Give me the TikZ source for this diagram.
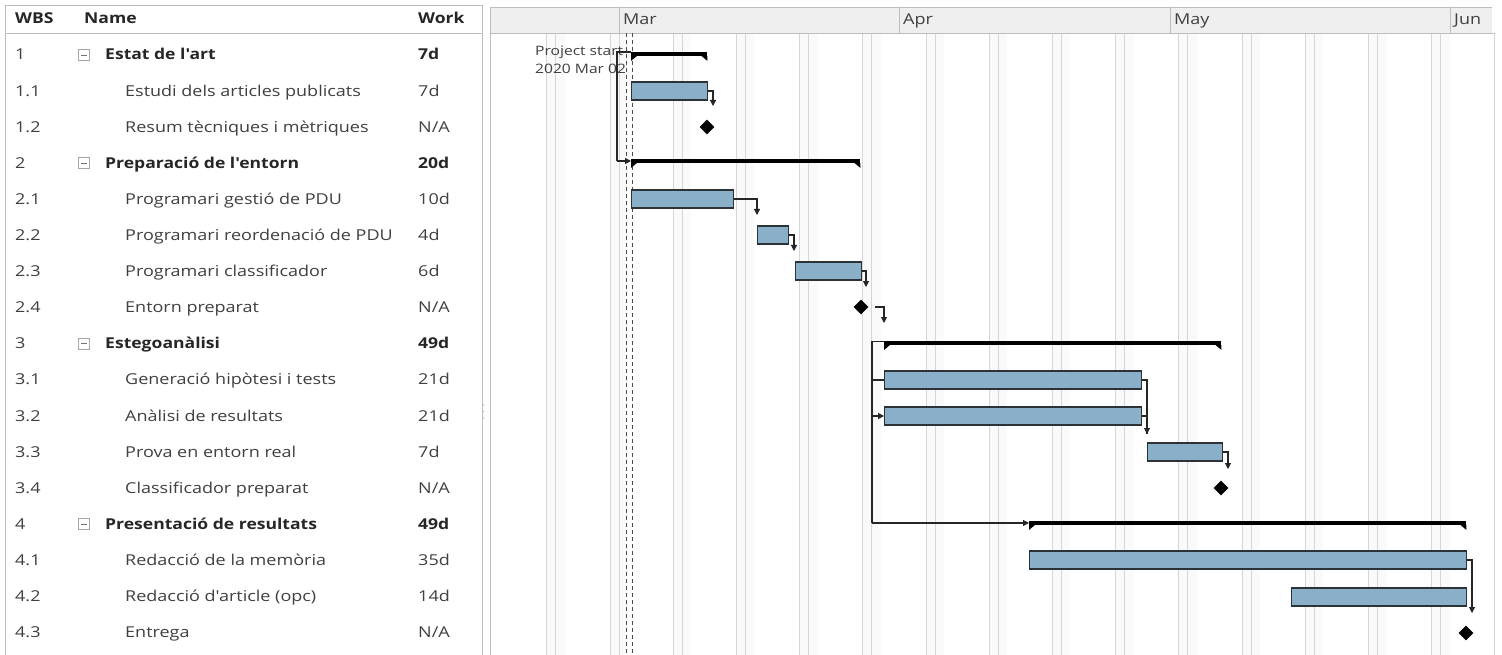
\documentclass[tikz,border=0pt]{standalone}
\usepackage{fontspec}
\setmainfont{Open Sans}[UprightFeatures={FakeStretch=1.2}, BoldFeatures={FakeStretch=1.17}]
\usetikzlibrary{shapes.geometric,arrows.meta,calc}

\definecolor{barfill}{HTML}{8AAFC8}
\definecolor{barline}{HTML}{2B3338}
\definecolor{gridline}{HTML}{D6D6D6}
\definecolor{wkfill}{HTML}{FAFAFA}
\definecolor{hdrfill}{HTML}{EFEFEF}
\definecolor{hdrline}{HTML}{BDBDBD}
\definecolor{txt}{HTML}{404040}
\definecolor{txtbold}{HTML}{262626}

\tikzset{
  cell/.style={anchor=base west, inner sep=0, text=txt, font=\fontsize{15}{18}\selectfont},
  boldcell/.style={cell, text=txtbold, font=\fontsize{15}{18}\selectfont\bfseries},
  month/.style={anchor=base west, inner sep=0, text=txt, font=\fontsize{15}{18}\selectfont},
  bar/.style={draw=barline, line width=1.3pt, fill=barfill, minimum height=18pt, inner sep=0, anchor=west},
  sumbar/.style={fill=black, minimum height=3.5pt, inner sep=0, anchor=west},
  mile/.style={diamond, fill=black, minimum size=15pt, inner sep=0},
  link/.style={draw=black!85, line width=1.1pt},
  conn/.style={link, -{Triangle[width=6pt,length=6pt]}},
  startline/.style={draw=black!70, line width=0.8pt, dash pattern=on 4pt off 3pt},
  toggle/.style={draw=black!35, line width=0.7pt, minimum size=11pt, inner sep=0, fill=white},
  smalltxt/.style={anchor=base west, inner sep=0, text=txt, font=\fontsize{13}{15}\selectfont},
}

% sum-task bracket ends
\newcommand\bracketends[1]{%
  \fill (#1.south west) -- ++(6,0) -- ++(-6,5) -- cycle;
  \fill (#1.south east) -- ++(-6,0) -- ++(6,5) -- cycle;
}

\begin{document}
\begin{tikzpicture}[x=1pt,y=-1pt]
\useasboundingbox (0,0) rectangle (1502,655);
\fill[white] (0,0) rectangle (1502,655);

% ---------- task table ----------
\draw[hdrline, line width=0.8pt] (5,5) rectangle (482,660);
\draw[hdrline, line width=0.8pt] (5,33) -- (482,33);
\node[boldcell] (hwbs) at (15,24) {WBS};
\node[boldcell] (hname) at (84,24) {Name};
\node[boldcell] (hwork) at (418,24) {Work};

\foreach \w/\n/\k/\t [count=\i] in {
  1/{Estat de l\textquotesingle art}/7d/s,
  1.1/{Estudi dels articles publicats}/7d/t,
  1.2/{Resum tècniques i mètriques}/{N/A}/t,
  2/{Preparació de l\textquotesingle entorn}/20d/s,
  2.1/{Programari gestió de PDU}/10d/t,
  2.2/{Programari reordenació de PDU}/4d/t,
  2.3/{Programari classificador}/6d/t,
  2.4/{Entorn preparat}/{N/A}/t,
  3/{Estegoanàlisi}/49d/s,
  3.1/{Generació hipòtesi i tests}/21d/t,
  3.2/{Anàlisi de resultats}/21d/t,
  3.3/{Prova en entorn real}/7d/t,
  3.4/{Classificador preparat}/{N/A}/t,
  4/{Presentació de resultats}/49d/s,
  4.1/{Redacció de la memòria}/35d/t,
  4.2/{Redacció d\textquotesingle article (opc)}/14d/t,
  4.3/{Entrega}/{N/A}/t} {
  \pgfmathsetmacro\ry{55+36.1*(\i-1)}
  \node[cell] (wbs\i) at (15,\ry+5) {\w};
  \if s\t
    \node[toggle] (tg\i) at (84,\ry) {};
    \draw[black!55, line width=0.8pt] ($(tg\i.center)+(-3,0)$) -- ($(tg\i.center)+(3,0)$);
    \node[boldcell] (nm\i) at (105,\ry+5) {\n};
    \node[boldcell] (wk\i) at (418,\ry+5) {\k};
  \else
    \node[cell] (nm\i) at (125,\ry+5) {\n};
    \node[cell] (wk\i) at (418,\ry+5) {\k};
  \fi
}

% pane splitter
\foreach \yy in {405,411.5,418}
  \fill[black!25] (483,\yy) circle (1.2pt);

% ---------- chart: weekends ----------
\begin{scope}
  \clip (490,33) rectangle (1495,655);
  \foreach \k in {0,...,15} {
    \pgfmathsetmacro\xs{619+9.03*(-8+7*\k)}
    \fill[wkfill] (\xs,33) rectangle (\xs+18,655);
    \draw[gridline, line width=0.9pt] (\xs,33) -- (\xs,655) (\xs+9,33) -- (\xs+9,655);
  }
\end{scope}

% ---------- chart: month header ----------
\fill[hdrfill] (490,7) rectangle (1492,33);
\draw[hdrline, line width=0.9pt] (490,7) -- (1492,7) (490,33) -- (1495,33);
\draw[hdrline, line width=0.9pt] (490,7) -- (490,655);
\foreach \mx/\mn in {619/Mar, 899/Apr, 1170/May, 1450/Jun} {
  \draw[hdrline, line width=0.9pt] (\mx,7) -- (\mx,33);
  \node[month] (m-\mn) at (\mx+4,25) {\mn};
}

% ---------- project start ----------
\draw[startline] (626,33) -- (626,655);
\draw[startline] (632,33) -- (632,655);
\node[smalltxt] (pstart) at (535,56) {Project start};
\node[smalltxt] (pdate) at (535,74) {2020 Mar 02};

% ---------- 1 Estat de l'art ----------
\node[sumbar, minimum width=76pt] (s1) at (631,54) {};
\bracketends{s1}
\node[bar, minimum width=76pt] (b11) at (631,91) {};
\node[mile] (m12) at (707,127) {};

% ---------- 2 Preparacio de l'entorn ----------
\node[sumbar, minimum width=229pt] (s2) at (631,161) {};
\bracketends{s2}
\node[bar, minimum width=102pt] (b21) at (631,199) {};
\node[bar, minimum width=31pt] (b22) at (757,235) {};
\node[bar, minimum width=66pt] (b23) at (795,271) {};
\node[mile] (m24) at (861,307) {};

% ---------- 3 Estegoanalisi ----------
\node[sumbar, minimum width=337pt] (s3) at (884,343) {};
\bracketends{s3}
\node[bar, minimum width=257pt] (b31) at (884,380) {};
\node[bar, minimum width=257pt] (b32) at (884,416) {};
\node[bar, minimum width=75pt] (b33) at (1147,452) {};
\node[mile] (m34) at (1221,488) {};

% ---------- 4 Presentacio de resultats ----------
\node[sumbar, minimum width=437pt] (s4) at (1029,523) {};
\bracketends{s4}
\node[bar, minimum width=437pt] (b41) at (1029,560) {};
\node[bar, minimum width=175pt] (b42) at (1291,597) {};
\node[mile] (m43) at (1466,633) {};

% ---------- dependencies ----------
\path (s1.north west) ++(-14,0) coordinate (ps1);
\draw[link] (s1.north west) -- (ps1) -- (ps1 |- s2.west);
\draw[conn] (ps1 |- s2.west) -- (s2.west);

\coordinate (e11) at (713,106);
\draw[conn] (b11.east) -| (e11);
\coordinate (e21) at (757,215);
\draw[conn] (b21.east) -| (e21);
\coordinate (e22) at (794,251);
\draw[conn] (b22.east) -| (e22);
\coordinate (e23) at (866,287);
\draw[conn] (b23.east) -| (e23);
\path (m24.east) ++(6,0) coordinate (f24);
\coordinate (e24) at (884,323);
\draw[conn] (f24) -| (e24);

\path (s3.north west) ++(-12,0) coordinate (c3);
\draw[link] (s3.north west) -- (c3) -- (c3 |- s4.west);
\draw[link] (c3 |- b31.west) -- (b31.west);
\draw[conn] (c3 |- b32.west) -- (b32.west);
\draw[conn] (c3 |- s4.west) -- (s4.west);

\coordinate (e32) at (1147,434);
\draw[link] (b31.east) -| (e32);
\draw[conn] (b32.east) -| (e32);
\coordinate (e33) at (1228,469);
\draw[conn] (b33.east) -| (e33);
\coordinate (e41) at (1472,613);
\draw[conn] (b41.east) -| (e41);
\end{tikzpicture}
\end{document}
